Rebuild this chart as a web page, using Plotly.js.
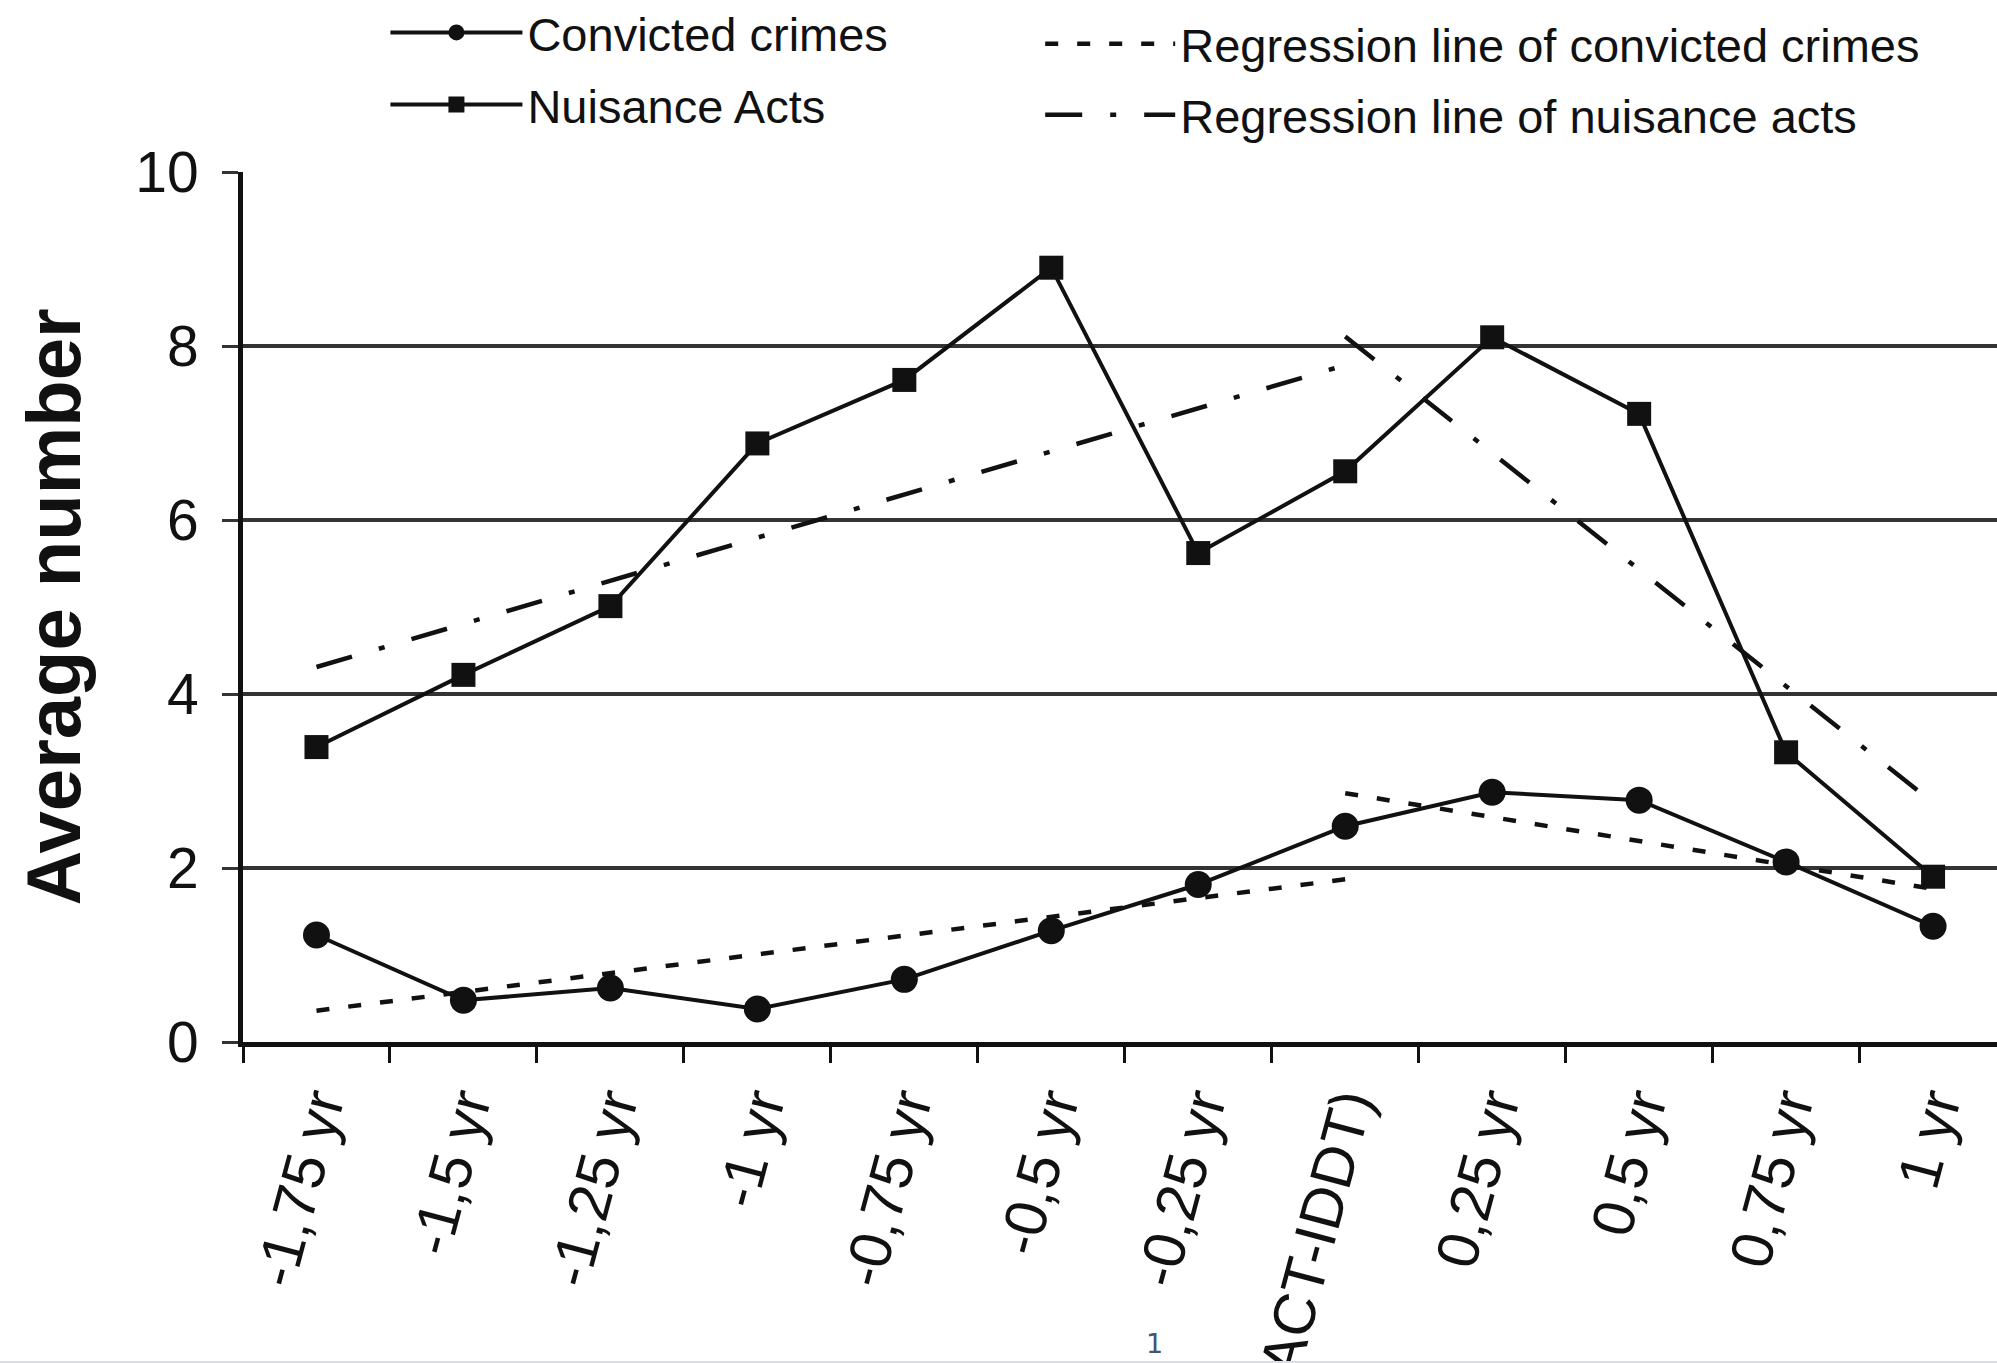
<!DOCTYPE html>
<html><head><meta charset="utf-8">
<script src="https://cdn.plot.ly/plotly-3.0.1.min.js"></script>
<style>html,body{margin:0;padding:0;background:#fff;overflow:hidden;} #chart{width:1997px;height:1363px;}</style>
</head><body><div id="chart"></div>
<script>
const categories = ["-1,75 yr","-1,5 yr","-1,25 yr","-1 yr","-0,75 yr","-0,5 yr","-0,25 yr","0 (ACT-IDDT)","0,25 yr","0,5 yr","0,75 yr","1 yr"];
const convictedCrimes = [1.23,0.48,0.62,0.38,0.72,1.28,1.81,2.48,2.87,2.78,2.07,1.33];
const nuisanceActs = [3.39,4.22,5.01,6.88,7.61,8.90,5.62,6.56,8.10,7.22,3.33,1.90];
// regression segments (before / after the ACT-IDDT start)
const regPreCats = ["-1,75 yr","0 (ACT-IDDT)"];
const regPostCats = ["0 (ACT-IDDT)","1 yr"];
const regConvictedPre = [0.36,1.87];
const regConvictedPost = [2.86,1.76];
const regNuisancePre = [4.31,7.78];
const regNuisancePost = [8.11,2.75];
const yTickVals = [0,2,4,6,8,10];

const FONT = "Liberation Sans, Arial, Helvetica, sans-serif";
const INK = "#111111";

function joinSegments(a, b) { return a.concat([null], b); }

const traces = [
  {type:'scatter', mode:'lines+markers', name:'Convicted crimes', x:categories, y:convictedCrimes,
   line:{color:INK, width:4}, marker:{symbol:'circle', size:27, color:INK},
   legend:'legend', legendgroup:'a'},
  {type:'scatter', mode:'lines+markers', name:'Nuisance Acts', x:categories, y:nuisanceActs,
   line:{color:INK, width:4}, marker:{symbol:'square', size:24, color:INK},
   legend:'legend', legendgroup:'b'},
  {type:'scatter', mode:'lines', name:'Regression line of convicted crimes',
   x:joinSegments(regPreCats, regPostCats), y:joinSegments(regConvictedPre, regConvictedPost),
   connectgaps:false, line:{color:INK, width:4.5, dash:'13px,19px'},
   legend:'legend2', legendgroup:'c'},
  {type:'scatter', mode:'lines', name:'Regression line of nuisance acts',
   x:joinSegments(regPreCats, regPostCats), y:joinSegments(regNuisancePre, regNuisancePost),
   connectgaps:false, line:{color:INK, width:4.5, dash:'37px,28px,6px,28px'},
   legend:'legend2', legendgroup:'d'}
];

const layout = {
  width:1997, height:1363,
  margin:{l:243, r:0, t:172, b:321, pad:0, autoexpand:false},
  paper_bgcolor:'#ffffff', plot_bgcolor:'#ffffff',
  font:{family:FONT, color:INK},
  showlegend:true,
  xaxis:{type:'category', categoryorder:'array', categoryarray:categories,
    range:[-0.5, 11.435], tickson:'boundaries', ticks:'outside', ticklen:16, tickwidth:3, tickcolor:INK,
    showline:true, linecolor:INK, linewidth:5, showgrid:false, zeroline:false,
    tickangle:-75, tickfont:{family:FONT, size:59, color:INK}, ticklabelstandoff:1,
    automargin:false, fixedrange:true},
  yaxis:{range:[0,10], tickvals:yTickVals, ticks:'outside', ticklen:16, tickwidth:3, tickcolor:'#333',
    showline:true, linecolor:INK, linewidth:5, showgrid:true, gridcolor:'#333333', gridwidth:3.5,
    zeroline:false, tickfont:{family:FONT, size:57, color:INK}, ticklabelstandoff:12,
    title:{text:'Average number', font:{family:FONT, size:76, color:INK, weight:'bold'}, standoff:31},
    automargin:false, fixedrange:true},
  legend:{x:0.0812, xanchor:'left', y:1.203, yanchor:'top', itemwidth:132, traceorder:'grouped',
    tracegroupgap:8, bgcolor:'rgba(0,0,0,0)', borderwidth:0,
    font:{family:FONT, size:47, color:INK}},
  legend2:{x:0.4545, xanchor:'left', y:1.19, yanchor:'top', itemwidth:130, traceorder:'grouped',
    tracegroupgap:7, bgcolor:'rgba(0,0,0,0)', borderwidth:0,
    font:{family:FONT, size:47, color:INK}},
  shapes:[{type:'line', xref:'paper', yref:'paper', x0:-0.2, x1:1.05, y0:-0.3678, y1:-0.3678,
    line:{color:'#d6dee8', width:2}}],
  annotations:[{text:'1', xref:'paper', yref:'paper', x:0.5195, y:-0.346, showarrow:false,
    xanchor:'center', yanchor:'middle', font:{family:'DejaVu Sans', size:27, color:'#44546a'}}]
};

Plotly.newPlot('chart', traces, layout, {staticPlot:true, displayModeBar:false});
</script>
</body></html>
